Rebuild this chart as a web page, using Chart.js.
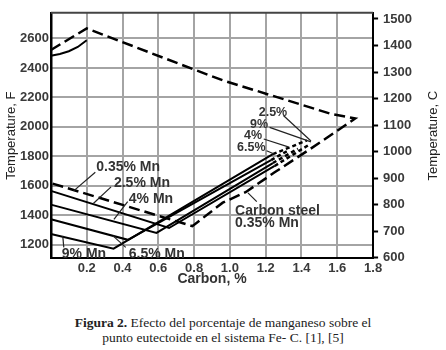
<!DOCTYPE html>
<html lang="es">
<head>
<meta charset="utf-8"/>
<title>Efecto del manganeso sobre el punto eutectoide</title>
<script src="https://cdn.jsdelivr.net/npm/chart.js"></script>
<style>
  html, body { margin: 0; padding: 0; background: #fff; }
  body { width: 446px; height: 350px; overflow: hidden; }
  .grafico { position: relative; width: 446px; height: 292px; }
  .pie {
    font-family: "Liberation Serif", serif;
    font-size: 13.5px;
    line-height: 15px;
    color: #222;
    text-align: center;
    margin-top: 23px;
  }
</style>
</head>
<body>
<div class="grafico"><canvas id="grafico"></canvas></div>
<div class="pie"><b>Figura 2.</b> Efecto del porcentaje de manganeso sobre el<br>punto eutectoide en el sistema Fe- C. [1], [5]</div>
<script>
// ticks de los ejes
const ticksCarbono = [0.2, 0.4, 0.6, 0.8, 1.0, 1.2, 1.4, 1.6, 1.8];
const ticksF = [1200, 1400, 1600, 1800, 2000, 2200, 2400, 2600];
const ticksC = [600, 700, 800, 900, 1000, 1100, 1200, 1300, 1400, 1500];

// curvas: [% carbono, temperatura F]
const curvaSuperior = [[0, 2482], [0.05, 2494], [0.1, 2513], [0.15, 2542], [0.2, 2588]];
const aceroCarbono = [[0, 2522], [0.2, 2668], [0.8, 2389], [0.96, 2316], [1.56, 2090], [1.70, 2057],
  [1.45, 1851], [1.25, 1692], [1.09, 1559], [0.96, 1486], [0.79, 1327], [0, 1619]];
const mn25 = [[0, 1566], [0.66, 1314], [1.25, 1735]];
const mn25Fin = [[1.25, 1735], [1.45, 1885]];
const mn4 = [[0, 1473], [0.59, 1281], [1.24, 1755]];
const mn4Fin = [[1.24, 1755], [1.38, 1852]];
const mn65 = [[0, 1373], [0.43, 1234], [1.23, 1775]];
const mn65Fin = [[1.23, 1775], [1.32, 1836]];
const mn9 = [[0, 1274], [0.35, 1174], [1.24, 1815]];
const mn9Fin = [[1.24, 1815], [1.43, 1908]];

const F_MIN = 1108, F_MAX = 2774;
const aC = f => (f - 32) / 1.8;

// etiquetas con linea guia, en unidades de datos
const notas = [
  { lineas: ['0.35% Mn'], c: 0.253, f: 1725, guia: [[0.248, 1692], [0.127, 1566]], tam: 14 },
  { lineas: ['2.5% Mn'], c: 0.352, f: 1619, guia: [[0.336, 1593], [0.237, 1480]], tam: 14 },
  { lineas: ['4% Mn'], c: 0.435, f: 1513, guia: [[0.429, 1493], [0.352, 1373]], tam: 14 },
  { lineas: ['9% Mn'], c: 0.061, f: 1140, guia: [[0.072, 1183], [0.066, 1261]], tam: 14 },
  { lineas: ['6.5% Mn'], c: 0.435, f: 1140, guia: [[0.418, 1183], [0.347, 1261]], tam: 14 },
  { lineas: ['Carbon steel', '0.35% Mn'], c: 1.029, f: 1430, guia: [[1.150, 1493], [1.101, 1553]], tam: 14 },
  { lineas: ['2.5%'], c: 1.161, f: 2097, guia: [[1.299, 2077], [1.453, 1904]], tam: 12.5 },
  { lineas: ['9%'], c: 1.112, f: 2017, guia: [[1.222, 1997], [1.453, 1898]], tam: 12.5 },
  { lineas: ['4%'], c: 1.079, f: 1938, guia: [[1.189, 1918], [1.326, 1865]], tam: 12.5 },
  { lineas: ['6.5%'], c: 1.040, f: 1858, guia: [[1.205, 1838], [1.244, 1818]], tam: 12.5 }
];

const puntos = arr => arr.map(p => ({ x: p[0], y: p[1] }));
const linea = (arr, guiones, ancho) => ({
  data: puntos(arr),
  showLine: true,
  borderColor: '#000',
  backgroundColor: 'rgba(0,0,0,0)',
  borderWidth: ancho || 2,
  borderDash: guiones || [],
  pointRadius: 0,
  fill: false,
  tension: 0
});

const fuente = 'Liberation Sans, Arial, sans-serif';
const gris = '#a4a4a4';

const extras = {
  id: 'extras',
  afterDraw(chart) {
    const ctx = chart.ctx;
    const a = chart.chartArea;
    const sx = chart.scales.x, sy = chart.scales.y;

    // rejilla: modo "darken" para que no tape las curvas negras
    ctx.save();
    ctx.globalCompositeOperation = 'darken';
    ctx.strokeStyle = gris;
    ctx.lineWidth = 2;
    ctx.setLineDash([]);
    ctx.beginPath();
    ticksCarbono.forEach(v => {
      const x = Math.round(sx.getPixelForValue(v));
      ctx.moveTo(x, a.top);
      ctx.lineTo(x, a.bottom);
    });
    ticksF.forEach(v => {
      const y = Math.round(sy.getPixelForValue(v));
      ctx.moveTo(a.left, y);
      ctx.lineTo(a.right, y);
    });
    ctx.stroke();
    ctx.restore();

    ctx.save();
    // borde superior
    ctx.strokeStyle = '#444';
    ctx.lineWidth = 2;
    ctx.beginPath();
    ctx.moveTo(a.left, a.top);
    ctx.lineTo(a.right, a.top);
    ctx.stroke();

    // notas
    notas.forEach(n => {
      ctx.strokeStyle = '#222';
      ctx.lineWidth = 1.2;
      ctx.beginPath();
      ctx.moveTo(sx.getPixelForValue(n.guia[0][0]), sy.getPixelForValue(n.guia[0][1]));
      ctx.lineTo(sx.getPixelForValue(n.guia[1][0]), sy.getPixelForValue(n.guia[1][1]));
      ctx.stroke();
      ctx.fillStyle = '#333';
      ctx.font = 'bold ' + n.tam + 'px ' + fuente;
      ctx.textAlign = 'left';
      ctx.textBaseline = 'middle';
      const x = sx.getPixelForValue(n.c);
      const y = sy.getPixelForValue(n.f);
      n.lineas.forEach((t, i) => ctx.fillText(t, x, y + i * 12));
    });

    // titulo del eje derecho
    ctx.fillStyle = '#222';
    ctx.font = '13px ' + fuente;
    ctx.textAlign = 'center';
    ctx.textBaseline = 'middle';
    ctx.translate(433, (a.top + a.bottom) / 2);
    ctx.rotate(-Math.PI / 2);
    ctx.fillText('Temperature, C', 0, 0);
    ctx.restore();
  }
};

const fijarTicks = valores => scale => { scale.ticks = valores.map(v => ({ value: v })); };
const sinComa = v => String(v);

new Chart(document.getElementById('grafico'), {
  type: 'scatter',
  data: {
    datasets: [
      linea(curvaSuperior),
      linea(aceroCarbono, [11, 5], 2.5),
      linea(mn25), linea(mn25Fin, [4, 3], 2.5),
      linea(mn4), linea(mn4Fin, [4, 3], 2.5),
      linea(mn65), linea(mn65Fin, [4, 3], 2.5),
      linea(mn9), linea(mn9Fin, [4, 3], 2.5)
    ]
  },
  options: {
    responsive: true,
    maintainAspectRatio: false,
    devicePixelRatio: 1,
    animation: false,
    layout: { padding: { top: 9, right: 29, bottom: 6, left: 0 } },
    plugins: { legend: { display: false }, tooltip: { enabled: false } },
    scales: {
      x: {
        type: 'linear', min: 0, max: 1.8,
        afterBuildTicks: fijarTicks(ticksCarbono),
        grid: { display: false, drawTicks: false },
        border: { color: '#000', width: 2 },
        ticks: { padding: 2, color: '#3a3a3a', font: { family: fuente, size: 13, weight: 'bold' },
                 callback: v => v.toFixed(1) },
        title: { display: true, text: 'Carbon, %', color: '#333',
                 font: { family: fuente, size: 14, weight: 'bold', lineHeight: 1 },
                 padding: { top: -6, bottom: 0 } }
      },
      y: {
        type: 'linear', position: 'left', min: F_MIN, max: F_MAX,
        afterBuildTicks: fijarTicks(ticksF),
        grid: { display: false, drawTicks: false },
        border: { color: '#000', width: 2.5 },
        ticks: { padding: 2, color: '#3a3a3a', font: { family: fuente, size: 13, weight: 'bold' },
                 callback: sinComa },
        title: { display: true, text: 'Temperature, F', color: '#222',
                 font: { family: fuente, size: 13, lineHeight: 1 },
                 padding: { top: 5, bottom: 0 } }
      },
      y2: {
        type: 'linear', position: 'right', min: aC(F_MIN), max: aC(F_MAX),
        afterBuildTicks: fijarTicks(ticksC),
        grid: { drawOnChartArea: false, drawTicks: true, tickLength: 5, tickWidth: 2, tickColor: '#000' },
        border: { color: '#000', width: 2 },
        ticks: { padding: 5, color: '#3a3a3a', font: { family: fuente, size: 13, weight: 'bold' },
                 callback: sinComa }
      }
    }
  },
  plugins: [extras]
});
</script>
</body>
</html>
